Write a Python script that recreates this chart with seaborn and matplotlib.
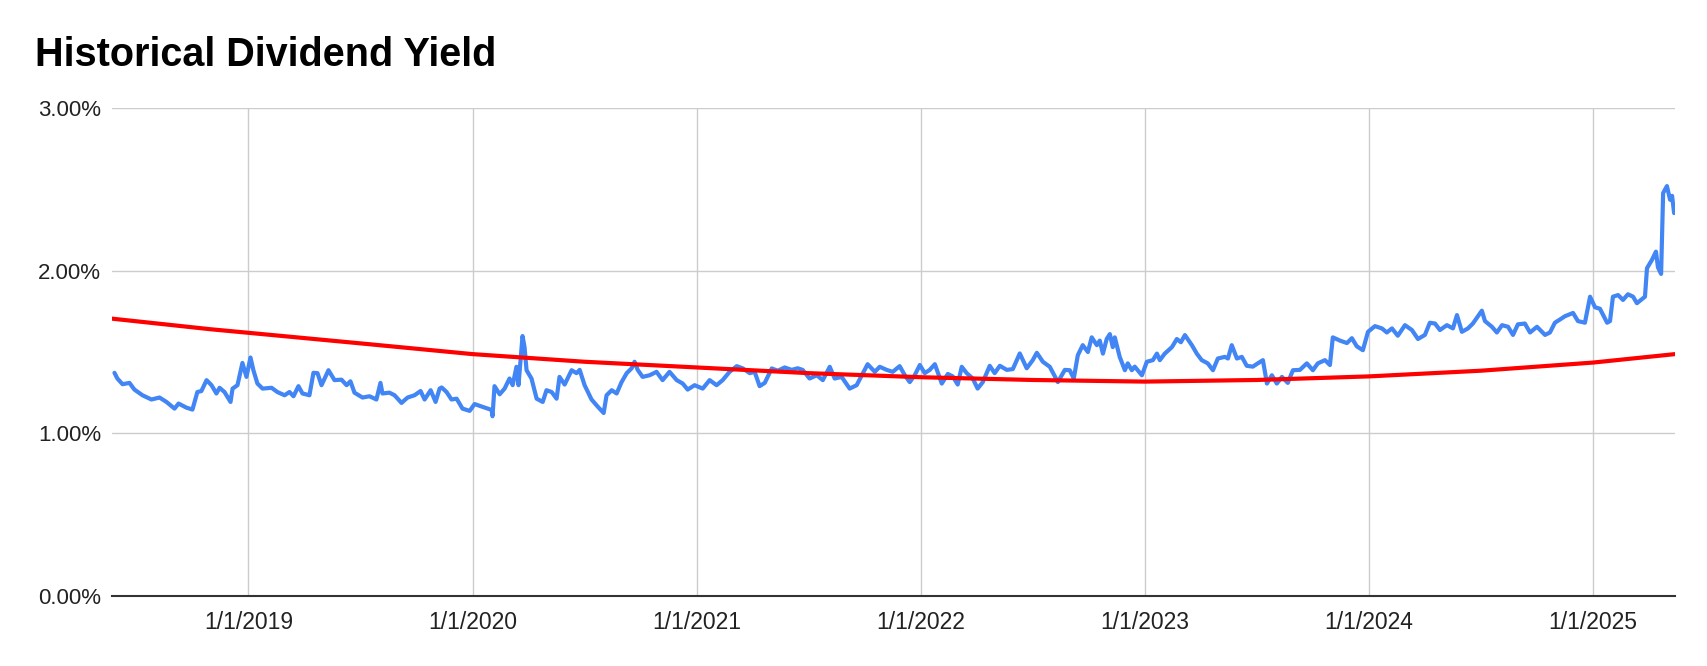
import pandas as pd
import matplotlib
matplotlib.use("Agg")
import matplotlib.pyplot as plt
import seaborn as sns

# --- data (time in fractional years, yield in %) ---
yield_t = [
    2018.402, 2018.415, 2018.438, 2018.469, 2018.491, 2018.527, 2018.567, 2018.603, 2018.634, 2018.670,
    2018.688, 2018.723, 2018.750, 2018.772, 2018.790, 2018.813, 2018.835, 2018.857, 2018.871, 2018.893,
    2018.920, 2018.929, 2018.951, 2018.973, 2018.991, 2019.009, 2019.022, 2019.040, 2019.063, 2019.103,
    2019.129, 2019.161, 2019.183, 2019.201, 2019.223, 2019.241, 2019.272, 2019.290, 2019.308, 2019.326,
    2019.357, 2019.384, 2019.415, 2019.438, 2019.455, 2019.473, 2019.509, 2019.540, 2019.571, 2019.589,
    2019.598, 2019.629, 2019.652, 2019.683, 2019.710, 2019.741, 2019.768, 2019.786, 2019.813, 2019.835,
    2019.853, 2019.862, 2019.884, 2019.906, 2019.929, 2019.955, 2019.987, 2020.009, 2020.040, 2020.085,
    2020.089, 2020.098, 2020.121, 2020.143, 2020.165, 2020.179, 2020.196, 2020.205, 2020.223, 2020.232,
    2020.241, 2020.263, 2020.286, 2020.313, 2020.330, 2020.353, 2020.375, 2020.388, 2020.411, 2020.442,
    2020.464, 2020.478, 2020.500, 2020.531, 2020.558, 2020.585, 2020.598, 2020.621, 2020.643, 2020.665,
    2020.688, 2020.710, 2020.723, 2020.737, 2020.759, 2020.790, 2020.821, 2020.848, 2020.879, 2020.911,
    2020.938, 2020.960, 2020.991, 2021.027, 2021.058, 2021.089, 2021.116, 2021.147, 2021.179, 2021.205,
    2021.237, 2021.259, 2021.281, 2021.304, 2021.335, 2021.362, 2021.393, 2021.424, 2021.451, 2021.473,
    2021.504, 2021.536, 2021.563, 2021.594, 2021.616, 2021.647, 2021.683, 2021.714, 2021.737, 2021.763,
    2021.795, 2021.817, 2021.848, 2021.875, 2021.906, 2021.929, 2021.951, 2021.973, 2021.996, 2022.018,
    2022.040, 2022.063, 2022.094, 2022.121, 2022.143, 2022.165, 2022.183, 2022.205, 2022.232, 2022.254,
    2022.277, 2022.308, 2022.330, 2022.353, 2022.384, 2022.411, 2022.442, 2022.473, 2022.500, 2022.518,
    2022.545, 2022.576, 2022.612, 2022.643, 2022.665, 2022.683, 2022.701, 2022.723, 2022.746, 2022.763,
    2022.786, 2022.799, 2022.813, 2022.830, 2022.844, 2022.857, 2022.866, 2022.888, 2022.911, 2022.924,
    2022.942, 2022.955, 2022.987, 2023.009, 2023.036, 2023.054, 2023.067, 2023.089, 2023.121, 2023.143,
    2023.161, 2023.179, 2023.210, 2023.232, 2023.254, 2023.281, 2023.304, 2023.326, 2023.357, 2023.371,
    2023.388, 2023.411, 2023.433, 2023.455, 2023.482, 2023.504, 2023.527, 2023.545, 2023.567, 2023.589,
    2023.612, 2023.638, 2023.661, 2023.692, 2023.723, 2023.750, 2023.772, 2023.804, 2023.826, 2023.839,
    2023.871, 2023.902, 2023.924, 2023.946, 2023.973, 2023.996, 2024.027, 2024.058, 2024.080, 2024.103,
    2024.129, 2024.161, 2024.192, 2024.219, 2024.250, 2024.272, 2024.295, 2024.317, 2024.348, 2024.375,
    2024.393, 2024.415, 2024.442, 2024.464, 2024.504, 2024.518, 2024.549, 2024.571, 2024.594, 2024.621,
    2024.643, 2024.665, 2024.696, 2024.719, 2024.750, 2024.786, 2024.808, 2024.830, 2024.853, 2024.875,
    2024.911, 2024.933, 2024.964, 2024.987, 2025.009, 2025.031, 2025.063, 2025.076, 2025.089, 2025.112,
    2025.134, 2025.156, 2025.179, 2025.196, 2025.232, 2025.241, 2025.263, 2025.281, 2025.290, 2025.304,
    2025.313, 2025.330, 2025.344, 2025.353, 2025.362,
]
yield_pct = [
    1.372, 1.337, 1.302, 1.310, 1.269, 1.234, 1.208, 1.220, 1.193, 1.152,
    1.183, 1.158, 1.146, 1.254, 1.260, 1.327, 1.296, 1.245, 1.280, 1.254,
    1.193, 1.275, 1.296, 1.433, 1.347, 1.466, 1.388, 1.306, 1.275, 1.280,
    1.254, 1.234, 1.254, 1.228, 1.290, 1.245, 1.234, 1.372, 1.370, 1.296,
    1.388, 1.327, 1.330, 1.296, 1.320, 1.250, 1.220, 1.228, 1.208, 1.310,
    1.245, 1.250, 1.234, 1.187, 1.220, 1.234, 1.260, 1.208, 1.265, 1.193,
    1.275, 1.282, 1.254, 1.208, 1.213, 1.152, 1.138, 1.180, 1.165, 1.144,
    1.105, 1.290, 1.240, 1.275, 1.337, 1.296, 1.409, 1.296, 1.598, 1.530,
    1.388, 1.337, 1.213, 1.193, 1.265, 1.254, 1.213, 1.347, 1.300, 1.388,
    1.370, 1.390, 1.296, 1.208, 1.165, 1.125, 1.234, 1.265, 1.245, 1.315,
    1.370, 1.400, 1.440, 1.390, 1.347, 1.357, 1.378, 1.327, 1.378, 1.327,
    1.306, 1.269, 1.296, 1.275, 1.327, 1.296, 1.327, 1.378, 1.413, 1.400,
    1.370, 1.378, 1.290, 1.310, 1.399, 1.385, 1.405, 1.390, 1.400, 1.390,
    1.337, 1.357, 1.327, 1.409, 1.337, 1.347, 1.275, 1.296, 1.357, 1.425,
    1.378, 1.409, 1.390, 1.378, 1.413, 1.357, 1.315, 1.357, 1.420, 1.370,
    1.390, 1.425, 1.306, 1.365, 1.350, 1.300, 1.409, 1.370, 1.337, 1.275,
    1.315, 1.415, 1.370, 1.415, 1.390, 1.395, 1.491, 1.400, 1.450, 1.495,
    1.440, 1.409, 1.315, 1.390, 1.388, 1.337, 1.480, 1.542, 1.500, 1.590,
    1.542, 1.570, 1.490, 1.580, 1.610, 1.530, 1.590, 1.470, 1.388, 1.430,
    1.388, 1.410, 1.357, 1.440, 1.450, 1.490, 1.450, 1.490, 1.530, 1.580,
    1.560, 1.604, 1.542, 1.490, 1.450, 1.430, 1.388, 1.460, 1.470, 1.460,
    1.542, 1.460, 1.470, 1.415, 1.410, 1.430, 1.450, 1.306, 1.357, 1.306,
    1.347, 1.310, 1.388, 1.390, 1.430, 1.388, 1.430, 1.450, 1.420, 1.590,
    1.570, 1.555, 1.585, 1.535, 1.511, 1.624, 1.659, 1.645, 1.620, 1.645,
    1.600, 1.665, 1.635, 1.580, 1.605, 1.680, 1.675, 1.635, 1.665, 1.645,
    1.727, 1.624, 1.645, 1.675, 1.754, 1.690, 1.655, 1.620, 1.665, 1.655,
    1.605, 1.670, 1.675, 1.620, 1.655, 1.605, 1.620, 1.680, 1.700, 1.720,
    1.740, 1.690, 1.680, 1.840, 1.775, 1.766, 1.680, 1.690, 1.840, 1.850,
    1.820, 1.855, 1.840, 1.800, 1.840, 2.015, 2.066, 2.117, 2.020, 1.980,
    2.477, 2.520, 2.436, 2.460, 2.354,
]

# smooth red trend line
trend_t = [2018.391, 2018.830, 2019.000, 2019.500, 2020.000, 2020.500, 2021.000, 2021.500,
           2022.000, 2022.500, 2023.000, 2023.500, 2024.000, 2024.500, 2025.000, 2025.366]
trend_pct = [1.705, 1.640, 1.618, 1.553, 1.487, 1.440, 1.405, 1.370,
             1.345, 1.328, 1.318, 1.328, 1.350, 1.385, 1.435, 1.487]

x_years = [2019, 2020, 2021, 2022, 2023, 2024, 2025]
x_labels = [f"1/1/{y}" for y in x_years]
y_ticks = [0, 1, 2, 3]
y_labels = [f"{v:.2f}%" for v in y_ticks]
x_range = (2018.391, 2025.366)

BLUE = "#4285F4"
RED = "#FF0000"
GRID = "#CCCCCC"


def to_dates(years):
    base = pd.Timestamp("2019-01-01")
    return base + pd.to_timedelta((pd.Series(years) - 2019) * 365.25, unit="D")


sns.set_theme(style="white")
plt.rcParams["font.family"] = ["Liberation Sans", "DejaVu Sans"]

fig = plt.figure(figsize=(17.08, 6.66), dpi=100)
ax = fig.add_axes([112 / 1708, 70 / 666, 1563 / 1708, 488 / 666])

df_yield = pd.DataFrame({"date": to_dates(yield_t), "pct": yield_pct})
df_trend = pd.DataFrame({"date": to_dates(trend_t), "pct": trend_pct})

sns.lineplot(data=df_yield, x="date", y="pct", color=BLUE, linewidth=3.0, ax=ax, zorder=3)
sns.lineplot(data=df_trend, x="date", y="pct", color=RED, linewidth=3.0, ax=ax, zorder=4)

ax.set_ylim(0, 3)
ax.set_xlim(to_dates(list(x_range)))
ax.set_yticks(y_ticks)
ax.set_yticklabels(y_labels)
ax.set_xticks(to_dates([float(y) for y in x_years]).tolist())
ax.set_xticklabels(x_labels)
ax.set_xlabel("")
ax.set_ylabel("")

ax.grid(True, color=GRID, linewidth=1.0)
ax.set_axisbelow(True)
for side in ["top", "right", "left"]:
    ax.spines[side].set_visible(False)
ax.spines["bottom"].set_color("#333333")
ax.spines["bottom"].set_linewidth(1.5)
ax.spines["bottom"].set_zorder(5)

ax.tick_params(axis="y", length=0, pad=8, labelsize=16, labelcolor="#222222")
ax.tick_params(axis="x", length=0, pad=11, labelsize=16.5, labelcolor="#222222")

fig.text(35 / 1708, 1 - 66 / 666, "Historical Dividend Yield", fontsize=28.5,
         fontweight="bold", color="black", va="baseline", ha="left")

fig.savefig("out.png", dpi=100)
